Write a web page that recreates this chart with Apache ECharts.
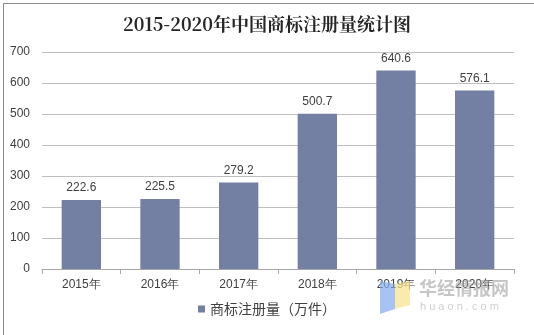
<!DOCTYPE html>
<html>
<head>
<meta charset="utf-8">
<script src="https://cdn.jsdelivr.net/npm/echarts@6/dist/echarts.min.js"></script>
<style>
html,body{margin:0;padding:0;background:#fff;}
#chart{width:534px;height:335px;}
</style>
</head>
<body>
<div id="chart"></div>
<script>
// Trademark registrations in China, 2015-2020 (10k items)
const years = ['2015年', '2016年', '2017年', '2018年', '2019年', '2020年'];
const registrations = [222.6, 225.5, 279.2, 500.7, 640.6, 576.1];
const seriesName = '商标注册量（万件）';
const titleText = '2015-2020年中国商标注册量统计图';

const chart = echarts.init(document.getElementById('chart'), null, {renderer: 'canvas'});
chart.setOption({
  backgroundColor: '#fff',
  animation: false,
  title: {
    text: titleText,
    left: 'center',
    top: 10,
    textStyle: {fontFamily: 'Noto Serif CJK SC, DejaVu Serif, serif', fontSize: 18, fontWeight: 'bold', color: '#262626'}
  },
  legend: {
    bottom: 14,
    left: 'center',
    itemWidth: 7,
    itemHeight: 7,
    icon: 'rect',
    itemGap: 4,
    textStyle: {fontFamily: 'Noto Sans CJK SC, sans-serif', fontSize: 14, color: '#404040'},
    data: [seriesName]
  },
  grid: {left: 42, right: 20, top: 52, bottom: 66},
  xAxis: {
    type: 'category',
    data: years,
    axisLine: {lineStyle: {color: '#a6a6a6'}},
    axisTick: {show: true, length: 5, lineStyle: {color: '#a6a6a6'}},
    axisLabel: {fontFamily: 'Liberation Sans, Arial, sans-serif', fontSize: 12, color: '#404040', margin: 10}
  },
  yAxis: {
    type: 'value',
    min: 0, max: 700, interval: 100,
    axisLine: {show: false},
    axisTick: {show: false},
    axisLabel: {fontFamily: 'Liberation Sans, Arial, sans-serif', fontSize: 12, color: '#404040', margin: 12},
    splitLine: {lineStyle: {color: '#bfbfbf'}}
  },
  series: [{
    name: seriesName,
    type: 'bar',
    data: registrations,
    barWidth: '50%',
    itemStyle: {color: '#737fa3'},
    label: {
      show: true, position: 'top', distance: 6,
      fontFamily: 'Liberation Sans, Arial, sans-serif', fontSize: 12, color: '#404040'
    }
  }],
  graphic: [
    {type: 'rect', left: 1, top: 1, shape: {width: 531, height: 332}, style: {fill: 'none', stroke: '#8c8c8c', lineWidth: 1}, silent: true},
    // site mark: open-book logo and name
    {type: 'polygon', shape: {points: [[380, 281], [395, 284], [395, 309], [380, 314]]}, style: {fill: 'rgba(130,170,235,0.7)'}, silent: true, z: 10},
    {type: 'polygon', shape: {points: [[395, 284], [410, 281], [410, 305], [395, 309]]}, style: {fill: 'rgba(250,225,140,0.7)'}, silent: true, z: 10},
    {type: 'text', left: 419, top: 279, style: {text: '华经情报网', fill: 'rgba(160,160,160,0.6)', font: 'bold 18px Noto Sans CJK SC, sans-serif'}, silent: true, z: 10},
    {type: 'text', left: 420, top: 301, style: {text: 'h u a o n . c o m', fill: 'rgba(175,175,175,0.6)', font: '11px Liberation Sans, sans-serif'}, silent: true, z: 10}
  ]
});
</script>
</body>
</html>
